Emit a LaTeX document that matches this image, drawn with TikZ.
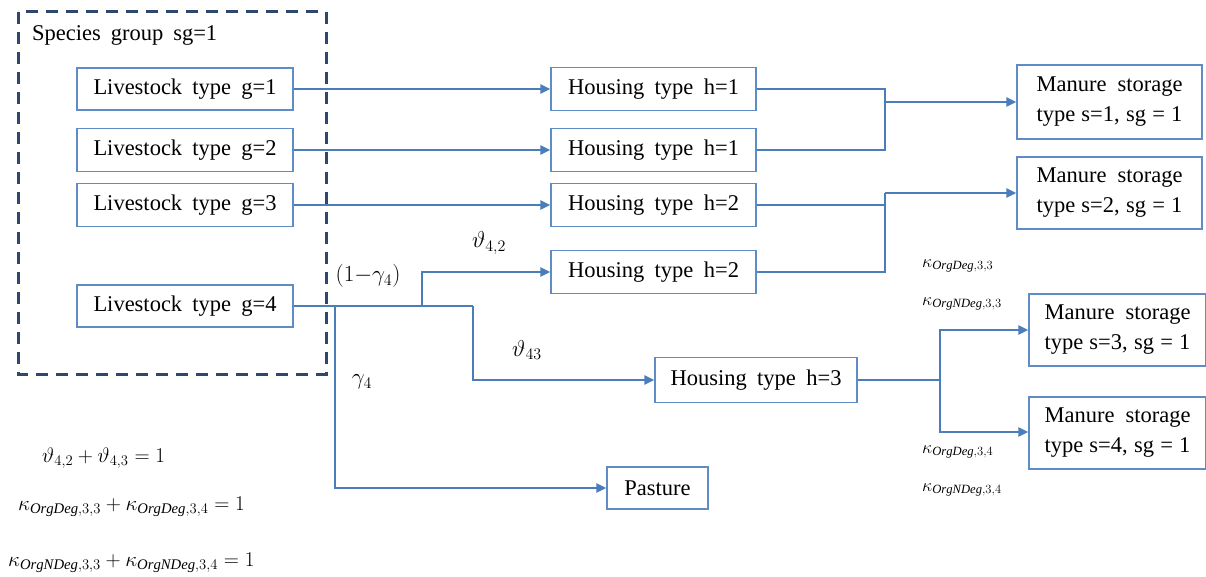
\RequirePackage{fix-cm}
\documentclass[tikz,border=0pt]{standalone}
\usepackage{fontspec}
\setmainfont{Liberation Serif}
\usetikzlibrary{arrows.meta,calc}
\definecolor{lineblue}{RGB}{74,126,187}
\definecolor{boxblue}{RGB}{95,140,196}
\definecolor{dashblue}{RGB}{45,72,108}
\begin{document}
\begin{tikzpicture}[x=1pt,y=-1pt,
  box/.style={draw=boxblue,line width=1.4pt,fill=white,inner sep=0pt,
    font=\fontsize{22.5}{30}\selectfont,align=center},
  conn/.style={draw=lineblue,line width=2.4pt},
  arr/.style={conn,-{Triangle[length=10pt,width=9pt]}},
  mlab/.style={inner sep=0pt,font=\fontsize{23}{26}\selectfont},
  klab/.style={inner sep=0pt,anchor=west,font=\fontsize{18}{20}\selectfont},
  eqlab/.style={inner sep=0pt,anchor=west,font=\fontsize{21}{24}\selectfont}]
\useasboundingbox (0,0) rectangle (1206,577);
\fill[white] (0,0) rectangle (1206,577);

% dashed species group
\draw[dashblue,line width=3pt,dash pattern=on 12pt off 8pt] (18,12) rectangle (326,374);
\node[inner sep=0pt,anchor=west,font=\fontsize{22.5}{25}\selectfont] (sp) at (32,35)
  {\makebox[185pt][s]{Species group sg=1}};

% livestock
\node[box,minimum width=216pt,minimum height=42pt] (g1) at (185,89) {\makebox[183pt][s]{Livestock type g=1}};
\node[box,minimum width=216pt,minimum height=43pt] (g2) at (185,150) {\makebox[183pt][s]{Livestock type g=2}};
\node[box,minimum width=216pt,minimum height=43pt] (g3) at (185,205) {\makebox[183pt][s]{Livestock type g=3}};
\node[box,minimum width=216pt,minimum height=42pt] (g4) at (185,306) {\makebox[183pt][s]{Livestock type g=4}};

% housing
\node[box,minimum width=205pt,minimum height=43pt] (h1a) at (653.5,89) {\makebox[171pt][s]{Housing type h=1}};
\node[box,minimum width=205pt,minimum height=43pt] (h1b) at (653.5,150) {\makebox[171pt][s]{Housing type h=1}};
\node[box,minimum width=205pt,minimum height=43pt] (h2a) at (653.5,205) {\makebox[171pt][s]{Housing type h=2}};
\node[box,minimum width=205pt,minimum height=43pt] (h2b) at (653.5,272) {\makebox[171pt][s]{Housing type h=2}};
\node[box,minimum width=202pt,minimum height=45pt] (h3) at (756,380) {\makebox[171pt][s]{Housing type h=3}};
\node[box,minimum width=101pt,minimum height=42pt] (past) at (657.5,488) {Pasture};

% manure storage
\node[box,minimum width=185pt,minimum height=74pt] (m1) at (1109.5,102)
  {\makebox[146pt][s]{Manure storage}\\\makebox[146pt][s]{type s=1, sg = 1}};
\node[box,minimum width=185pt,minimum height=72pt] (m2) at (1109.5,193)
  {\makebox[146pt][s]{Manure storage}\\\makebox[146pt][s]{type s=2, sg = 1}};
\node[box,minimum width=177pt,minimum height=72pt] (m3) at (1117.5,330)
  {\makebox[146pt][s]{Manure storage}\\\makebox[146pt][s]{type s=3, sg = 1}};
\node[box,minimum width=177pt,minimum height=72pt] (m4) at (1117.5,433)
  {\makebox[146pt][s]{Manure storage}\\\makebox[146pt][s]{type s=4, sg = 1}};

% junction coordinates
\coordinate (j1) at (885,102);
\coordinate (j2) at (885,193);
\coordinate (j3) at (940,380);
\coordinate (ja) at (335,306);
\coordinate (jb) at (422,306);
\coordinate (jc) at (473,306);
\coordinate (j3t) at (940,330);
\coordinate (j3b) at (940,432);

% livestock -> housing
\draw[arr] (g1.east) -- (h1a.west);
\draw[arr] (g2.east) -- (h1b.west);
\draw[arr] (g3.east) -- (h2a.west);
\draw[conn] (g4.east) -- (jc);
\draw[arr] (jb) |- (h2b.west);
\draw[arr] (jc) |- (h3.west);
\draw[arr] (ja) |- (past.west);

% housing -> manure
\draw[conn] (h1a.east) -| (h1b.east -| j1) -- (h1b.east);
\draw[arr] (j1) -- (m1.west |- j1);
\draw[conn] (h2a.east) -- (h2a.east -| j2);
\draw[conn] (h2b.east) -| (j2);
\draw[arr] (j2) -- (m2.west |- j2);
\draw[conn] (h3.east) -- (j3);
\draw[arr] (j3b) -- (j3t) -- (m3.west);
\draw[arr] (j3t) -- (j3b) -- (m4.west |- j3b);

% labels
\node[mlab] (l1) at (368,276) {$(1{-}\gamma_4)$};
\node[mlab] (l2) at (489,243) {$\vartheta_{4,2}$};
\node[mlab] (l3) at (527,350) {$\vartheta_{43}$};
\node[mlab] (l4) at (362,382) {$\gamma_4$};
\node[klab] (k1) at (922,266) {$\kappa_{\mathit{OrgDeg},3,3}$};
\node[klab] (k2) at (922,304) {$\kappa_{\mathit{OrgNDeg},3,3}$};
\node[klab] (k3) at (922,452) {$\kappa_{\mathit{OrgDeg},3,4}$};
\node[klab] (k4) at (922,490) {$\kappa_{\mathit{OrgNDeg},3,4}$};
\node[eqlab] (e1) at (42,458) {$\vartheta_{4,2}+\vartheta_{4,3}=1$};
\node[eqlab] (e2) at (18,507) {$\kappa_{\mathit{OrgDeg},3,3}+\kappa_{\mathit{OrgDeg},3,4}=1$};
\node[eqlab] (e3) at (8,563) {$\kappa_{\mathit{OrgNDeg},3,3}+\kappa_{\mathit{OrgNDeg},3,4}=1$};
\end{tikzpicture}
\end{document}
